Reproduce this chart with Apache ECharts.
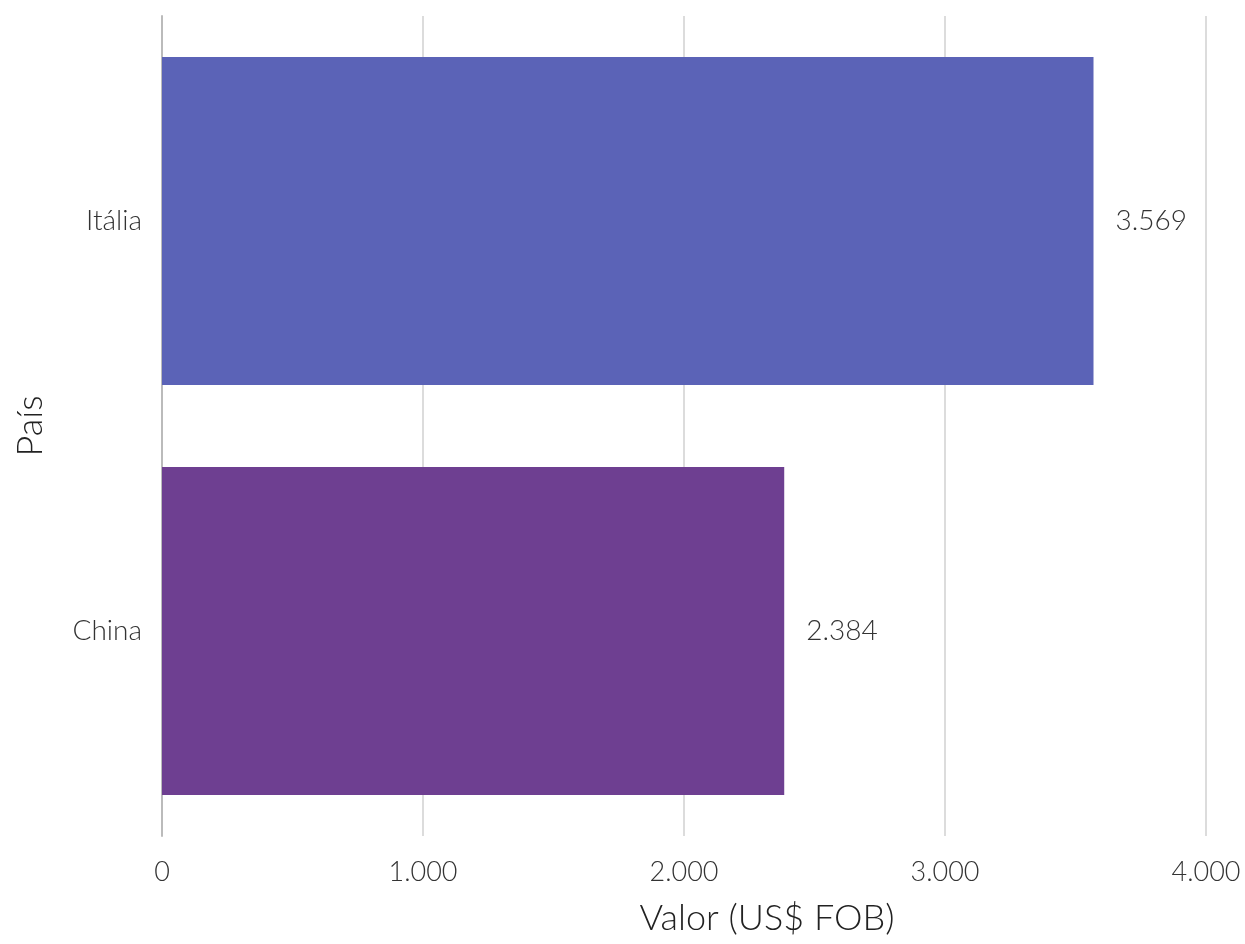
<!DOCTYPE html>
<html>
<head>
<meta charset="utf-8">
<script src="https://cdn.jsdelivr.net/npm/echarts@6/dist/echarts.min.js"></script>
<style>html,body{margin:0;padding:0;background:#fff}#c{width:1245px;height:944px}</style>
</head>
<body>
<div id="c"></div>
<script>
const categories = ["Itália", "China"];
const values = [3569, 2384];
const colors = ["#5B63B7", "#6E3F91"];
const xTicks = [0, 1000, 2000, 3000, 4000];

function fmt(v) {
  return String(Math.round(v)).replace(/\B(?=(\d{3})+(?!\d))/g, ".");
}

const chart = echarts.init(document.getElementById('c'), null, {renderer: 'canvas'});
const font = "Lato";
chart.setOption({
  backgroundColor: '#fff',
  animation: false,
  grid: {left: 162, right: 39, top: 16, bottom: 108, containLabel: false},
  xAxis: {
    type: 'value',
    min: xTicks[0], max: xTicks[xTicks.length - 1], interval: 1000,
    name: 'Valor (US$ FOB)', nameLocation: 'middle', nameGap: 64,
    nameTextStyle: {fontFamily: font, fontWeight: 300, fontSize: 36, color: '#222', padding: [0, 0, 0, 166]},
    axisLine: {show: false}, axisTick: {show: false},
    axisLabel: {fontFamily: font, fontWeight: 300, fontSize: 27, color: '#333', margin: 23, formatter: fmt},
    splitLine: {show: true, lineStyle: {color: '#dcdcdc', width: 2}}
  },
  yAxis: {
    type: 'category', data: categories, inverse: true,
    name: 'País', nameLocation: 'middle', nameGap: 114,
    nameTextStyle: {fontFamily: font, fontWeight: 300, fontSize: 36, color: '#222'},
    axisLine: {show: true, lineStyle: {color: '#bbbbbb', width: 2}},
    axisTick: {show: false},
    axisLabel: {fontFamily: font, fontWeight: 300, fontSize: 28, color: '#333', margin: 20}
  },
  series: [{
    type: 'bar',
    barCategoryGap: '20%',
    data: values.map((v, i) => ({value: v, itemStyle: {color: colors[i]}})),
    label: {show: true, position: 'right', distance: 22, fontFamily: font, fontWeight: 300, fontSize: 28, color: '#333',
      formatter: p => fmt(p.value)}
  }]
});
</script>
</body>
</html>
